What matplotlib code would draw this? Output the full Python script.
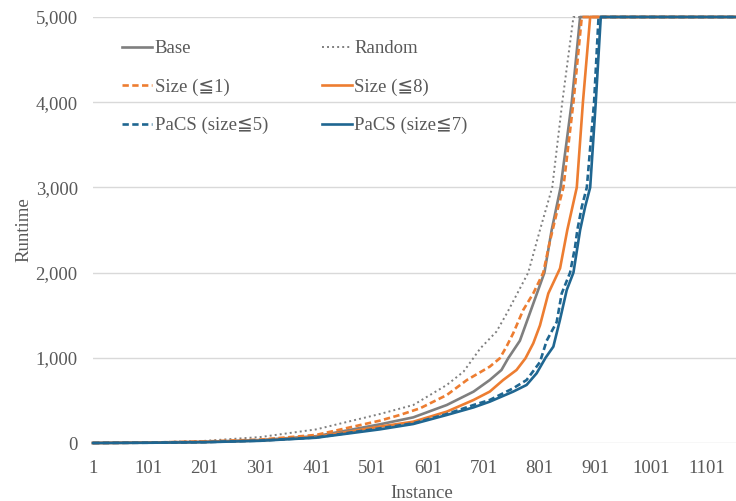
import matplotlib
matplotlib.use("Agg")
import matplotlib.pyplot as plt
from matplotlib.ticker import FuncFormatter, FixedLocator

plt.rcParams['font.family'] = ['Liberation Serif', 'DejaVu Serif', 'DejaVu Sans']

END = 1200
# (instance, runtime) points
random_x = [1, 101, 201, 301, 401, 515, 575, 635, 665, 683, 695, 724, 743, 781, 802, 824, 842, 862, END]
random_y = [0, 8, 25, 70, 160, 340, 446, 681, 837, 1000, 1110, 1307, 1526, 2000, 2500, 3000, 4000, 5000, 5000]

base_x = [1, 101, 201, 301, 401, 515, 575, 635, 683, 712, 733, 745, 766, 784, 810, 823, 839, 859, 874, END]
base_y = [0, 5, 15, 35, 80, 219, 301, 446, 603, 739, 857, 994, 1200, 1526, 2000, 2500, 3000, 4000, 5000, 5000]

size1_x = [1, 101, 201, 301, 401, 515, 551, 587, 635, 671, 712, 730, 742, 754, 772, 790, 808, 819, 832, 844, 862, 877, END]
size1_y = [0, 5, 18, 40, 95, 262, 329, 407, 563, 739, 896, 994, 1131, 1287, 1561, 1756, 2000, 2344, 2700, 3000, 4000, 5000, 5000]

size8_x = [1, 101, 201, 301, 401, 515, 575, 635, 683, 712, 736, 760, 776, 790, 802, 817, 838, 851, 868, 879, 892, END]
size8_y = [0, 4, 12, 30, 70, 192, 250, 368, 505, 603, 739, 857, 994, 1170, 1380, 1756, 2050, 2500, 3000, 4000, 5000, 5000]

pacs5_x = [1, 101, 201, 301, 401, 515, 575, 635, 683, 712, 754, 778, 802, 814, 832, 841, 856, 865, 869, 877, 886, 899, 907, END]
pacs5_y = [0, 3, 10, 28, 65, 172, 231, 340, 446, 505, 642, 739, 950, 1200, 1420, 1756, 2000, 2304, 2500, 2773, 3000, 4000, 5000, 5000]

pacs7_x = [1, 101, 201, 301, 401, 515, 575, 635, 683, 712, 754, 778, 796, 812, 826, 838, 850, 862, 874, 883, 892, 902, 911, END]
pacs7_y = [0, 3, 9, 26, 62, 160, 223, 329, 418, 485, 603, 681, 818, 1000, 1131, 1450, 1796, 2000, 2500, 2773, 3000, 4000, 5000, 5000]

labels = ['Base', 'Random', 'Size (≦1)', 'Size (≦8)', 'PaCS (size≦5)', 'PaCS (size≦7)']
x_ticks = [1, 101, 201, 301, 401, 501, 601, 701, 801, 901, 1001, 1101]
y_ticks = [0, 1000, 2000, 3000, 4000, 5000]

GRAY = '#7f7f7f'
ORANGE = '#ED7D31'
BLUE = '#1F6691'
TXT = '#595959'

W, H = 736, 501
fig = plt.figure(figsize=(W / 100, H / 100), dpi=100)
left, right, bottom, top = 93, 751, 443, 17
ax = fig.add_axes([left / W, 1 - bottom / H, (right - left) / W, (bottom - top) / H])

lw = 1.9
series = [
    (random_x, random_y, dict(color=GRAY, lw=1.4, ls=(0, (1, 1.6))), 1),
    (base_x, base_y, dict(color=GRAY, lw=lw, ls='-'), 0),
    (size1_x, size1_y, dict(color=ORANGE, lw=lw, ls=(0, (2.4, 1.3))), 2),
    (size8_x, size8_y, dict(color=ORANGE, lw=lw, ls='-'), 3),
    (pacs5_x, pacs5_y, dict(color=BLUE, lw=lw, ls=(0, (2.4, 1.3))), 4),
    (pacs7_x, pacs7_y, dict(color=BLUE, lw=lw, ls='-'), 5),
]
handles = [None] * 6
for xs, ys, st, li in series:
    ln, = ax.plot(xs, ys, label=labels[li], clip_on=False, zorder=3, **st)
    handles[li] = ln

ax.set_xlim(1, 1 + (right - left) / 0.558)
ax.set_ylim(0, 5000)
ax.xaxis.set_major_locator(FixedLocator(x_ticks))
ax.yaxis.set_major_locator(FixedLocator(y_ticks))
ax.yaxis.set_major_formatter(FuncFormatter(lambda v, p: f'{int(v):,}'))
ax.grid(axis='y', color='#d9d9d9', lw=1.0, zorder=0)
ax.set_axisbelow(True)
for s in ax.spines.values():
    s.set_visible(False)
ax.tick_params(axis='both', length=0, labelsize=13.5, colors=TXT)
ax.tick_params(axis='x', pad=12.5)
ax.tick_params(axis='y', pad=11)

ax.set_xlabel('Instance', fontsize=13.5, color=TXT, labelpad=5.5)
ax.set_ylabel('Runtime', fontsize=13.5, color=TXT, labelpad=2)

# legend fills column-wise: reorder so rows read Base/Random, Size1/Size8, PaCS5/PaCS7
order = [0, 2, 4, 1, 3, 5]
leg = fig.legend(handles=[handles[i] for i in order], loc='upper left',
                 bbox_to_anchor=(122 / W, 1 - 40 / H),
                 ncol=2, frameon=False, fontsize=13.5, handlelength=1.6, handletextpad=0.15,
                 columnspacing=2.85, labelspacing=1.13, borderpad=0, borderaxespad=0)
for t in leg.get_texts():
    t.set_color(TXT)

fig.savefig('out.png', dpi=100)
